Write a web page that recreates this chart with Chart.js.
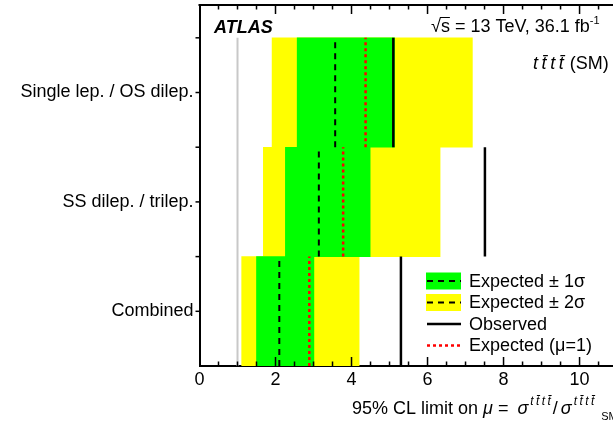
<!DOCTYPE html>
<html>
<head>
<meta charset="utf-8">
<script src="https://cdn.jsdelivr.net/npm/chart.js@4/dist/chart.umd.min.js"></script>
<style>
  html, body { margin: 0; padding: 0; background: #fff; }
</style>
</head>
<body>
<canvas id="limitPlot" width="613" height="426"></canvas>
<script>
// channels, top to bottom
const categories = ['Single lep. / OS dilep.', 'SS dilep. / trilep.', 'Combined'];
const minus2 = [1.91, 1.68, 1.11];
const minus1 = [2.57, 2.26, 1.50];
const expected = [3.57, 3.14, 2.10];
const plus1 = [5.13, 4.49, 3.01];
const plus2 = [7.18, 6.33, 4.20];
const expectedMu1 = [4.37, 3.78, 2.89];
const observed = [5.10, 7.51, 5.30];
const smValue = 1;
const xTicks = [0, 2, 4, 6, 8, 10];
const legendLabels = ['Expected \u00b1 1\u03c3', 'Expected \u00b1 2\u03c3', 'Observed', 'Expected (\u03bc=1)'];

const FONT = "'Liberation Sans', Arial, sans-serif";
Chart.defaults.font.family = FONT;
Chart.defaults.color = '#000';

const nRows = categories.length;
const rowCenter = i => nRows - i - 0.5;
const TTTT = 't\u2009t\u0304\u2009t\u2009t\u0304';

// floating bars, one per channel
function band(lo, hi) {
  return categories.map((c, i) => ({ x: [lo[i], hi[i]], y: rowCenter(i) }));
}
// vertical segment per channel, broken by nulls
function segments(vals) {
  const pts = [];
  vals.forEach((v, i) => {
    pts.push({ x: v, y: rowCenter(i) - 0.5 }, { x: v, y: rowCenter(i) + 0.5 }, { x: v, y: null });
  });
  return pts;
}

// text with italic / super / subscript pieces
function drawRich(ctx, x, y, parts) {
  parts.forEach(p => {
    ctx.font = (p.italic ? 'italic ' : '') + (p.bold ? 'bold ' : '') + (p.size || 18) + 'px ' + FONT;
    ctx.fillText(p.t, x, y + (p.dy || 0));
    x += ctx.measureText(p.t).width + (p.gap || 0);
  });
  return x;
}

const framePlugin = {
  id: 'frame',
  afterDatasetsDraw(chart) {
    const { ctx, chartArea: a, scales: { x, y } } = chart;
    ctx.save();
    ctx.strokeStyle = '#000';
    ctx.lineWidth = 2;
    ctx.beginPath();
    ctx.moveTo(a.left - 1, a.top);
    ctx.lineTo(a.right + 2, a.top);
    ctx.stroke();
    ctx.lineWidth = 1.5;
    for (let v = 0.5; v <= x.max; v += 0.5) {
      const px = x.getPixelForValue(v);
      const len = v % 2 === 0 ? 9 : 4.5;
      ctx.beginPath();
      ctx.moveTo(px, a.bottom);
      ctx.lineTo(px, a.bottom - len);
      ctx.moveTo(px, a.top);
      ctx.lineTo(px, a.top + len);
      ctx.stroke();
    }
    for (let v = 0.5; v <= nRows; v += 0.5) {
      const py = y.getPixelForValue(v);
      ctx.beginPath();
      ctx.moveTo(a.left, py);
      ctx.lineTo(a.left - 4, py);
      ctx.stroke();
    }
    ctx.restore();
  },
  afterDraw(chart) {
    const { ctx } = chart;
    const ds = chart.data.datasets;
    ctx.save();
    ctx.fillStyle = '#000';
    ctx.textBaseline = 'alphabetic';
    drawRich(ctx, 214, 33, [{ t: 'ATLAS', italic: true, bold: true }]);

    // sqrt(s) with bar over s
    let xs = drawRich(ctx, 431, 32, [{ t: '\u221a' }]);
    const sEnd = drawRich(ctx, xs, 32, [{ t: 's' }]);
    ctx.strokeStyle = '#000';
    ctx.lineWidth = 1;
    ctx.beginPath();
    ctx.moveTo(xs - 1, 17.5);
    ctx.lineTo(sEnd, 17.5);
    ctx.stroke();
    drawRich(ctx, sEnd, 32, [
      { t: ' = 13 TeV, 36.1 fb' },
      { t: '-1', size: 11, dy: -8 }
    ]);
    drawRich(ctx, 533, 69, [
      { t: TTTT, italic: true, gap: 1 },
      { t: ' (SM)' }
    ]);

    // axis title
    drawRich(ctx, 352, 414, [
      { t: '95% CL limit on ' },
      { t: '\u03bc', italic: true },
      { t: ' = ', gap: 4 },
      { t: '\u03c3', italic: true, gap: 2 },
      { t: TTTT, italic: true, size: 12, dy: -9, gap: 2 },
      { t: '/', gap: 3 },
      { t: '\u03c3', italic: true, gap: 2 },
      { t: TTTT, italic: true, size: 12, dy: -9, gap: 7 },
      { t: 'SM', size: 11, dy: 6 }
    ]);

    // legend
    const bx = 426, bw = 35, bh = 17, tx = 469;
    const items = [
      { fill: ds[4].backgroundColor, line: ds[2] },
      { fill: ds[5].backgroundColor, line: ds[2] },
      { line: ds[0] },
      { line: ds[1] }
    ];
    items.forEach((it, i) => {
      const cy = 281 + i * 21.5;
      if (it.fill) {
        ctx.fillStyle = it.fill;
        ctx.fillRect(bx, cy - bh / 2, bw, bh);
      }
      ctx.strokeStyle = it.line.borderColor;
      ctx.lineWidth = it.line.borderWidth;
      ctx.setLineDash(it.line.borderDash || []);
      ctx.beginPath();
      ctx.moveTo(bx + 1, cy);
      ctx.lineTo(bx + bw, cy);
      ctx.stroke();
      ctx.setLineDash([]);
      ctx.fillStyle = '#000';
      ctx.textBaseline = 'middle';
      ctx.font = '18px ' + FONT;
      ctx.fillText(legendLabels[i], tx, cy + 1);
    });
    ctx.restore();
  }
};

const barStyle = { type: 'bar', indexAxis: 'y', grouped: false, barPercentage: 1, categoryPercentage: 1, borderWidth: 0 };

new Chart(document.getElementById('limitPlot').getContext('2d'), {
  type: 'line',
  data: {
    datasets: [
      { type: 'line', label: legendLabels[2], data: segments(observed), borderColor: '#000000', borderWidth: 2.5, order: 0 },
      { type: 'line', label: legendLabels[3], data: segments(expectedMu1), borderColor: '#ff0000', borderWidth: 2.5, borderDash: [3, 3], order: 1 },
      { type: 'line', label: 'Expected', data: segments(expected), borderColor: '#000000', borderWidth: 2, borderDash: [6, 5], order: 2 },
      { type: 'line', label: 'SM', data: [{ x: smValue, y: 0 }, { x: smValue, y: nRows }], borderColor: '#c8c8c8', borderWidth: 2, order: 3 },
      Object.assign({ label: legendLabels[0], data: band(minus1, plus1), backgroundColor: '#00ff00', order: 4 }, barStyle),
      Object.assign({ label: legendLabels[1], data: band(minus2, plus2), backgroundColor: '#ffff00', order: 5 }, barStyle)
    ]
  },
  options: {
    responsive: false,
    animation: false,
    layout: { padding: { top: 5, right: 0, bottom: 0, left: 0 } },
    elements: {
      point: { radius: 0 },
      line: { tension: 0, fill: false, borderCapStyle: 'butt' }
    },
    scales: {
      x: {
        type: 'linear',
        min: 0,
        max: 10.88,
        offset: false,
        grid: { drawOnChartArea: false, drawTicks: false },
        border: { display: true, color: '#000', width: 2 },
        afterBuildTicks: s => { s.ticks = xTicks.map(v => ({ value: v })); },
        ticks: { font: { size: 18 }, padding: 3, maxRotation: 0, autoSkip: false },
        afterFit: s => { s.height = 60; s.paddingLeft = 0; s.paddingRight = 0; }
      },
      y: {
        type: 'linear',
        min: 0,
        max: 3.3,
        offset: false,
        grid: { drawOnChartArea: false, drawTicks: false },
        border: { display: true, color: '#000', width: 2 },
        afterBuildTicks: s => { s.ticks = categories.map((c, i) => ({ value: rowCenter(i) })); },
        ticks: {
          font: { size: 18 },
          padding: 6,
          callback: v => categories[Math.round(nRows - 0.5 - v)]
        },
        afterFit: s => { s.width = 199.5; s.paddingTop = 0; s.paddingBottom = 0; }
      }
    },
    plugins: {
      legend: { display: false },
      tooltip: { enabled: false }
    }
  },
  plugins: [framePlugin]
});
</script>
</body>
</html>
